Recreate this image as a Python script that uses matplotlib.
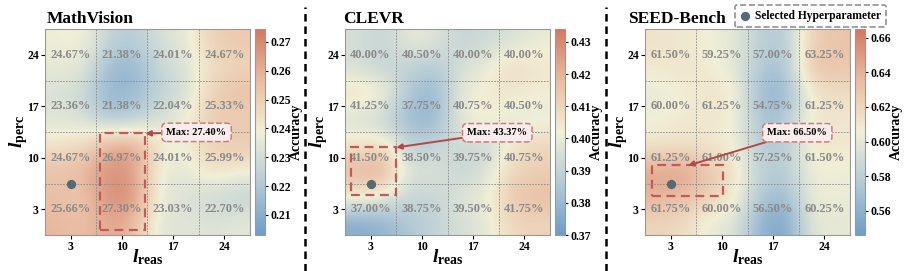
import numpy as np
import matplotlib.pyplot as plt
from matplotlib.colors import LinearSegmentedColormap
from matplotlib.patches import Rectangle
from matplotlib.lines import Line2D

plt.rcParams['font.family'] = ['Liberation Serif', 'DejaVu Serif']
plt.rcParams['font.weight'] = 'bold'
plt.rcParams['mathtext.fontset'] = 'custom'
plt.rcParams['mathtext.it'] = 'Liberation Serif:italic:bold'
plt.rcParams['mathtext.rm'] = 'Liberation Serif:bold'
plt.rcParams['mathtext.bf'] = 'Liberation Serif:bold'

layers = [3, 10, 17, 24]
titles = ['MathVision', 'CLEVR', 'SEED-Bench']

# cell labels (rows top -> bottom: l_perc = 24, 17, 10, 3)
mv_cells = [[24.67, 21.38, 24.01, 24.67],
            [23.36, 21.38, 22.04, 25.33],
            [24.67, 26.97, 24.01, 25.99],
            [25.66, 27.30, 23.03, 22.70]]
clevr_cells = [[40.00, 40.50, 40.00, 40.00],
               [41.25, 37.75, 40.75, 40.50],
               [41.50, 38.50, 39.75, 40.75],
               [37.00, 38.75, 39.50, 41.75]]
seed_cells = [[61.50, 59.25, 57.00, 63.25],
              [60.00, 61.25, 54.75, 61.25],
              [61.25, 61.00, 57.25, 61.50],
              [61.75, 60.00, 56.50, 60.25]]

# background accuracy surface, half-cell samples (top -> bottom)
mv_surface = [[0.238, 0.240, 0.225, 0.222, 0.232, 0.235, 0.250, 0.252],
              [0.236, 0.235, 0.215, 0.212, 0.228, 0.232, 0.245, 0.248],
              [0.232, 0.228, 0.212, 0.215, 0.225, 0.230, 0.250, 0.255],
              [0.233, 0.232, 0.218, 0.222, 0.232, 0.238, 0.252, 0.250],
              [0.243, 0.245, 0.262, 0.265, 0.240, 0.238, 0.250, 0.252],
              [0.255, 0.258, 0.268, 0.265, 0.236, 0.235, 0.245, 0.240],
              [0.255, 0.252, 0.270, 0.268, 0.235, 0.232, 0.228, 0.225],
              [0.258, 0.255, 0.262, 0.258, 0.232, 0.235, 0.232, 0.235]]
clevr_surface = [[0.395, 0.390, 0.400, 0.398, 0.390, 0.393, 0.395, 0.400],
                 [0.395, 0.390, 0.390, 0.385, 0.395, 0.400, 0.410, 0.405],
                 [0.408, 0.405, 0.385, 0.378, 0.400, 0.403, 0.405, 0.402],
                 [0.395, 0.390, 0.380, 0.378, 0.400, 0.405, 0.398, 0.400],
                 [0.405, 0.408, 0.388, 0.390, 0.395, 0.390, 0.405, 0.410],
                 [0.420, 0.425, 0.395, 0.398, 0.390, 0.395, 0.410, 0.412],
                 [0.405, 0.400, 0.392, 0.390, 0.398, 0.400, 0.415, 0.418],
                 [0.375, 0.378, 0.385, 0.390, 0.395, 0.398, 0.410, 0.410]]
seed_surface = [[0.612, 0.610, 0.605, 0.600, 0.580, 0.575, 0.625, 0.630],
                [0.610, 0.612, 0.608, 0.600, 0.575, 0.570, 0.635, 0.630],
                [0.600, 0.605, 0.612, 0.610, 0.565, 0.560, 0.610, 0.615],
                [0.605, 0.610, 0.610, 0.608, 0.570, 0.575, 0.612, 0.610],
                [0.610, 0.612, 0.610, 0.605, 0.578, 0.575, 0.612, 0.610],
                [0.645, 0.650, 0.630, 0.615, 0.580, 0.578, 0.605, 0.603],
                [0.640, 0.635, 0.625, 0.610, 0.575, 0.565, 0.605, 0.603],
                [0.620, 0.618, 0.600, 0.598, 0.560, 0.550, 0.600, 0.600]]

max_acc = [27.40, 43.37, 66.50]
vlims = [(0.203, 0.2745), (0.370, 0.434), (0.546, 0.665)]
cticks = [[0.21, 0.22, 0.23, 0.24, 0.25, 0.26, 0.27],
          [0.37, 0.38, 0.39, 0.40, 0.41, 0.42, 0.43],
          [0.56, 0.58, 0.60, 0.62, 0.64, 0.66]]
selected = (3, 6.5)

# max region boxes (x0, y0, x1, y1), arrow tip, label position
max_boxes = [(7.0, 0.2, 13.1, 13.3), (0.3, 5.0, 6.4, 11.4), (0.4, 4.85, 10.1, 8.95)]
arrow_tips = [(13.2, 13.3), (6.5, 11.4), (5.4, 8.95)]
label_pos = [(20.2, 13.45), (20.3, 13.4), (20.3, 13.4)]

cmap = LinearSegmentedColormap.from_list(
    'acc', ['#6f9cc6', '#b3cad6', '#f1efd6', '#e9bda3', '#d17862'])

cells_all = [mv_cells, clevr_cells, seed_cells]
surf_all = [mv_surface, clevr_surface, seed_surface]

W, H = 914, 271
fig = plt.figure(figsize=(W / 100, H / 100), dpi=100)

ax_left = [45, 345, 645]
title_x = [0.008, -0.011, -0.083]
red = '#c25a5a'

for k in range(3):
    ax = fig.add_axes([ax_left[k] / W, 36 / H, 205 / W, 206 / H])
    cax = fig.add_axes([(ax_left[k] + 210) / W, 36 / H, 10 / W, 206 / H])
    vmin, vmax = vlims[k]
    im = ax.imshow(np.array(surf_all[k]), cmap=cmap, vmin=vmin, vmax=vmax,
                   extent=(-0.5, 27.5, -0.5, 27.5), origin='upper',
                   interpolation='bicubic', aspect='auto')
    ax.set_xlim(-0.5, 27.5)
    ax.set_ylim(-0.5, 27.5)

    cells = cells_all[k]
    for i, yv in enumerate(layers[::-1]):
        for j, xv in enumerate(layers):
            ax.text(xv, yv, f'{cells[i][j]:.2f}%', ha='center', va='center',
                    fontsize=9, fontweight='bold', color='#8a8a8a', zorder=3)

    ax.set_xticks(layers)
    ax.set_yticks(layers)
    ax.set_xticks([6.5, 13.5, 20.5], minor=True)
    ax.set_yticks([6.5, 13.5, 20.5], minor=True)
    ax.grid(which='minor', color='#8a8a8a', ls=(0, (2, 1.5)), lw=0.6)
    ax.tick_params(which='minor', length=0)
    ax.tick_params(which='major', length=3, width=0.8, labelsize=8.5, pad=1.5)
    for lab in ax.get_xticklabels() + ax.get_yticklabels():
        lab.set_fontweight('bold')
    for sp in ax.spines.values():
        sp.set_color('#999999')
        sp.set_linewidth(0.8)

    ax.set_xlabel(r'$l_{\mathrm{reas}}$', fontsize=14)
    ax.set_ylabel(r'$l_{\mathrm{perc}}$', fontsize=14)
    ax.xaxis.set_label_coords(0.5, -0.058)
    ax.yaxis.set_label_coords(-0.072, 0.5)

    ax.text(title_x[k], 1.03, titles[k], transform=ax.transAxes, fontsize=12.5,
            fontweight='bold', ha='left', va='baseline')

    ax.scatter([selected[0]], [selected[1]], s=32, color='#566a74', zorder=5,
               label='Selected Hyperparameter')

    x0, y0, x1, y1 = max_boxes[k]
    ax.add_patch(Rectangle((x0, y0), x1 - x0, y1 - y0, fill=False, ec=red,
                           lw=1.6, ls=(0, (4, 2.5)), zorder=4))
    ax.annotate(f'Max: {max_acc[k]:.2f}%', xy=arrow_tips[k], xytext=label_pos[k],
                fontsize=7.5, fontweight='bold', ha='center', va='center',
                arrowprops=dict(arrowstyle='-|>', color='#b34848', lw=1.4,
                                mutation_scale=8, shrinkA=0, shrinkB=0),
                bbox=dict(boxstyle='round,pad=0.45', fc='#fbecec', ec='#cf7b7b',
                          ls='--', lw=1.1), zorder=6)

    cb = fig.colorbar(im, cax=cax, ticks=cticks[k], format='%.2f')
    cb.outline.set_edgecolor('#999999')
    cb.outline.set_linewidth(0.8)
    cax.tick_params(labelsize=8.5, length=2.5, width=0.8, pad=1.5)
    for lab in cax.get_yticklabels():
        lab.set_fontweight('bold')
    cb.set_label('Accuracy', fontsize=10, fontweight='bold', labelpad=-1)

    if k == 2:
        leg = ax.legend(loc='lower right', bbox_to_anchor=(1.175, 1.01),
                        fontsize=8.3, frameon=True, fancybox=True,
                        handletextpad=0.3, borderpad=0.45, scatterpoints=1,
                        handlelength=1.0, borderaxespad=0)
        fr = leg.get_frame()
        fr.set_linestyle('--')
        fr.set_edgecolor('#777777')
        fr.set_linewidth(1.2)
        for t in leg.get_texts():
            t.set_fontweight('bold')

for xs in [305, 606]:
    fig.add_artist(Line2D([xs / W, xs / W], [0, 0.975], transform=fig.transFigure,
                          color='black', lw=1.8, ls=(0, (3, 2))))

plt.savefig('out.png', dpi=100)
